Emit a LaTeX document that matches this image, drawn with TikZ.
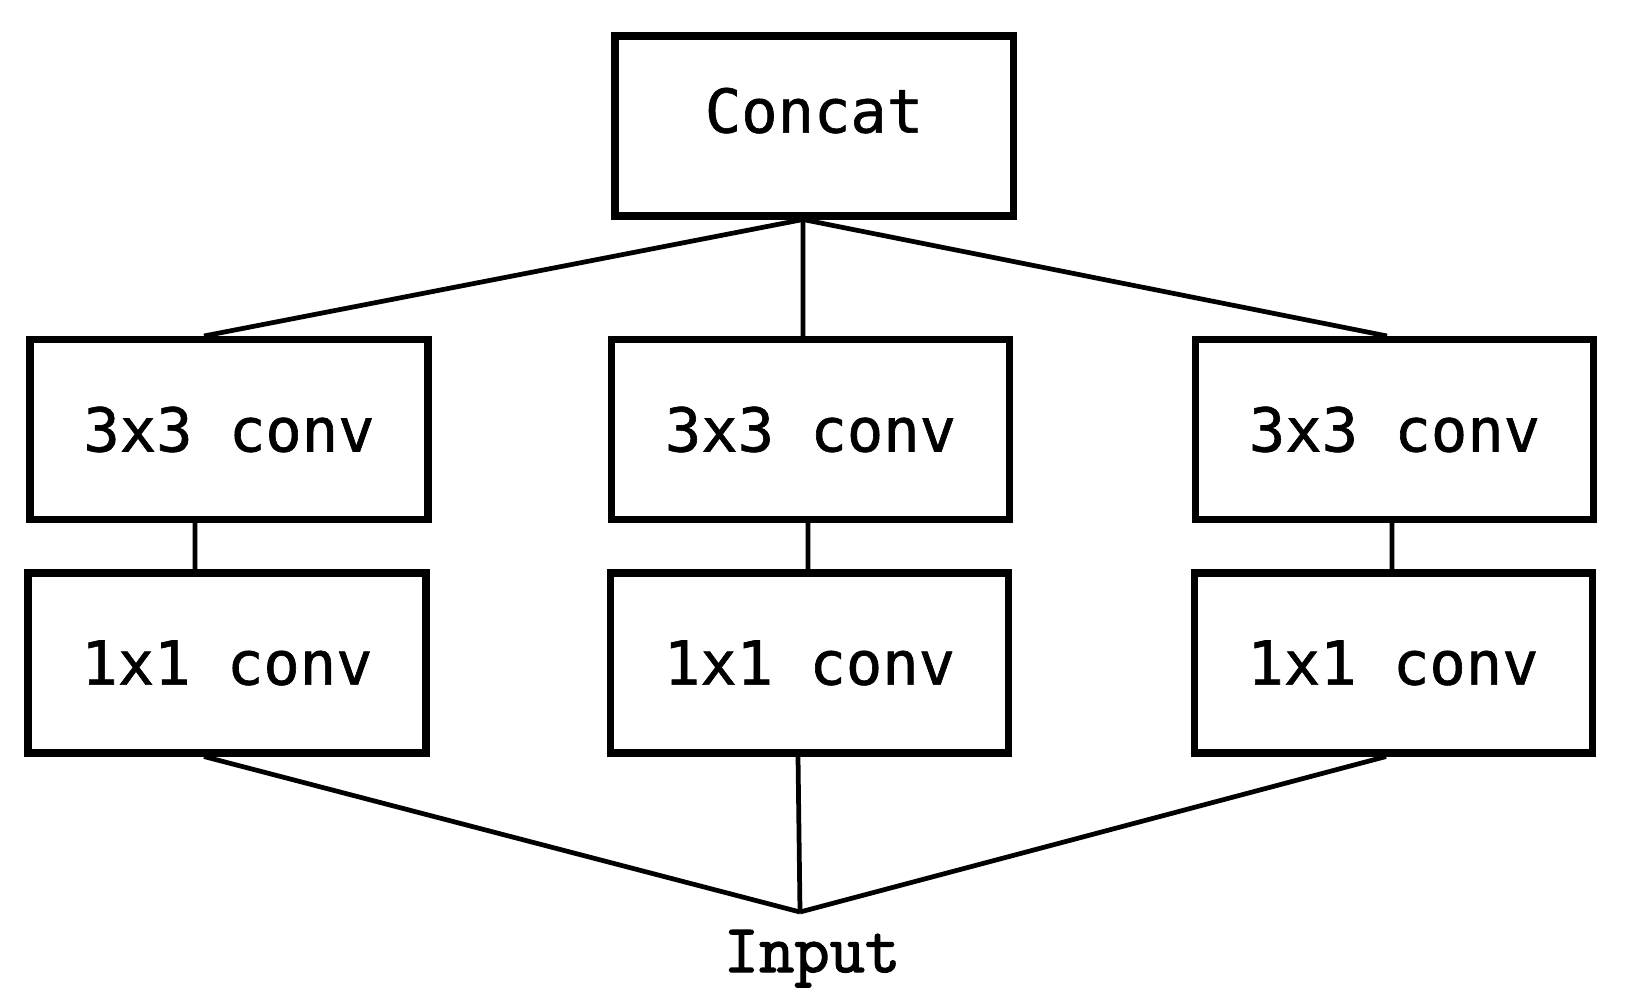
\documentclass[tikz,border=0pt]{standalone}
\usepackage{fontspec}
\newfontfamily\convfont[RawFeature={embolden=1.0}]{DejaVu Sans Mono}
\newfontfamily\inputfont[RawFeature={embolden=2.0}]{Latin Modern Mono}
\usetikzlibrary{positioning}

\begin{document}
\begin{tikzpicture}[
  font=\convfont\fontsize{17.2}{20}\selectfont,
  layer/.style={draw, line width=2pt, minimum width=3.98cm, minimum height=1.8cm, inner sep=0pt},
  link/.style={line width=1.35pt}
]
\useasboundingbox (0,0) rectangle (16.29,9.98);

\node[layer, text depth=9pt] (concat) at (8.14,8.72) {Concat};

\node[layer] (l3) at (2.29,5.685) {3x3 conv};
\node[layer] (m3) at (8.105,5.685) {3x3 conv};
\node[layer] (r3) at (13.945,5.685) {3x3 conv};

\node[layer] (l1) at (2.27,3.35) {1x1 conv};
\node[layer] (m1) at (8.095,3.35) {1x1 conv};
\node[layer] (r1) at (13.93,3.35) {1x1 conv};

\coordinate (in) at (8.00,0.86);
\node[font=\inputfont\fontsize{19.5}{22}\selectfont, anchor=base] (input) at (8.12,0.26) {Input};

\draw[link] ([xshift=-1.1mm]concat.south) -- ([xshift=-2.5mm]l3.north);
\draw[link] ([xshift=-1.1mm]concat.south) -- ([xshift=-0.75mm]m3.north);
\draw[link] ([xshift=-1.1mm]concat.south) -- ([xshift=-0.75mm]r3.north);

\draw[link] ([xshift=-3.4mm]l3.south) -- ([xshift=-3.2mm]l1.north);
\draw[link] ([xshift=-0.25mm]m3.south) -- ([xshift=-0.15mm]m1.north);
\draw[link] ([xshift=-0.25mm]r3.south) -- ([xshift=-0.1mm]r1.north);

\draw[link] ([xshift=-2.3mm]l1.south) -- (in);
\draw[link] ([xshift=-1.15mm]m1.south) -- (in);
\draw[link] ([xshift=-0.7mm]r1.south) -- (in);

\end{tikzpicture}
\end{document}
